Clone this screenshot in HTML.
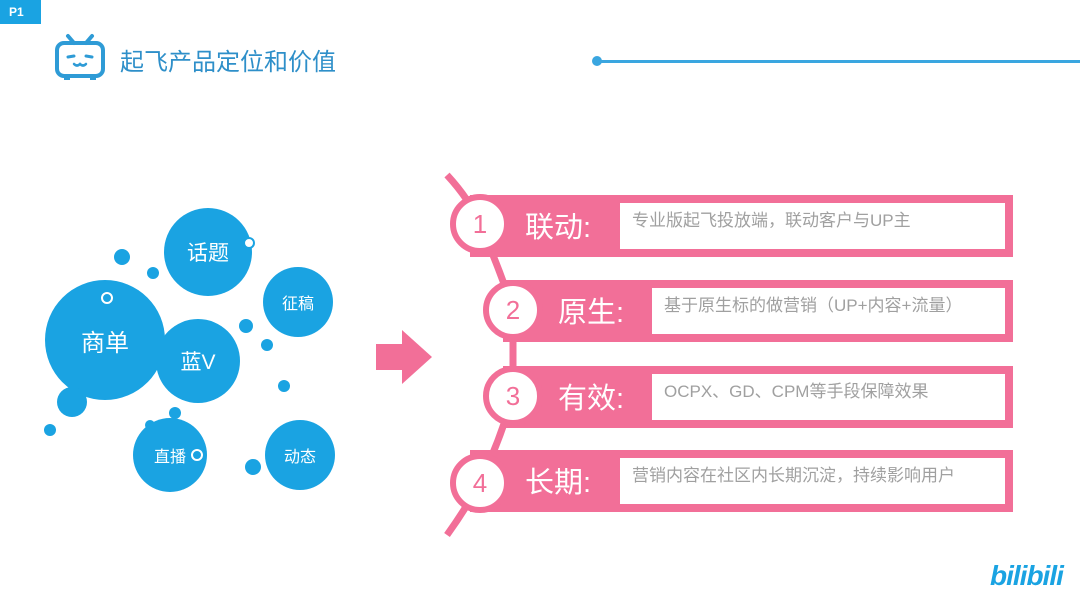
<!DOCTYPE html>
<html><head><meta charset="utf-8"><style>
body{margin:0;width:1080px;height:608px;background:#fff;position:relative;overflow:hidden;font-family:"Liberation Sans","Noto Sans CJK SC",sans-serif}
.a{position:absolute}
.b{position:absolute;border-radius:50%;background:#1aa3e2;color:#fff;display:flex;align-items:center;justify-content:center}
.band{position:absolute;background:#f26f98;height:62px;right:67px}
.wb{position:absolute;background:#fff;top:8px;bottom:8px;right:8px;color:#a0a0a0;font-size:17px;padding:6px 10px 0 12px;line-height:24px;overflow:hidden}
.lab{position:absolute;color:#fff;font-size:29px;top:9px}
.c{position:absolute;width:48px;height:48px;border-radius:50%;background:#fff;border:6px solid #f26f98;color:#f26f98;font-size:26px;display:flex;align-items:center;justify-content:center}
</style></head><body>
<div class="a" style="left:0;top:0;width:41px;height:24px;background:#1aa3e2;color:#fff;font-size:12px;font-weight:bold;line-height:24px;padding-left:9px;box-sizing:border-box">P1</div>
<svg class="a" style="left:52px;top:32px" width="56" height="50"><g stroke="#2e9bd6" fill="none" stroke-width="4" stroke-linecap="round"><line x1="16" y1="4" x2="22" y2="11"/><line x1="40" y1="4" x2="34" y2="11"/><rect x="5" y="11" width="46" height="33" rx="7"/><line x1="16" y1="25" x2="22" y2="24" stroke-width="3"/><line x1="34" y1="24" x2="40" y2="25" stroke-width="3"/><path d="M22 32 q3 3 6 0 q3 3 6 0" stroke-width="2.5"/></g><rect x="12" y="43" width="6" height="5" fill="#2e9bd6"/><rect x="38" y="43" width="6" height="5" fill="#2e9bd6"/></svg>
<div class="a" style="left:120px;top:42px;font-size:24px;color:#2e8fc9">起飞产品定位和价值</div>
<div class="a" style="left:597px;top:60px;width:483px;height:3px;background:#3aa6e0"></div>
<div class="a" style="left:592px;top:56px;width:10px;height:10px;border-radius:50%;background:#3aa6e0"></div>

<div class="b" style="left:45px;top:280px;width:120px;height:120px;font-size:24px">商单</div>
<div class="b" style="left:164px;top:208px;width:88px;height:88px;font-size:21px">话题</div>
<div class="b" style="left:156px;top:319px;width:84px;height:84px;font-size:21px">蓝V</div>
<div class="b" style="left:263px;top:267px;width:70px;height:70px;font-size:16px">征稿</div>
<div class="b" style="left:133px;top:418px;width:74px;height:74px;font-size:16px">直播</div>
<div class="b" style="left:265px;top:420px;width:70px;height:70px;font-size:16px">动态</div>
<div class="b" style="left:114px;top:249px;width:16px;height:16px"></div>
<div class="b" style="left:147px;top:267px;width:12px;height:12px"></div>
<div class="b" style="left:57px;top:387px;width:30px;height:30px"></div>
<div class="b" style="left:44px;top:424px;width:12px;height:12px"></div>
<div class="b" style="left:239px;top:319px;width:14px;height:14px"></div>
<div class="b" style="left:261px;top:339px;width:12px;height:12px"></div>
<div class="b" style="left:278px;top:380px;width:12px;height:12px"></div>
<div class="b" style="left:169px;top:407px;width:12px;height:12px"></div>
<div class="b" style="left:145px;top:420px;width:10px;height:10px"></div>
<div class="b" style="left:245px;top:459px;width:16px;height:16px"></div>
<div class="a" style="left:101px;top:292px;width:8px;height:8px;border:2px solid #fff;border-radius:50%;background:#1aa3e2"></div>
<div class="a" style="left:243px;top:237px;width:8px;height:8px;border:2px solid #1aa3e2;border-radius:50%;background:#fff"></div>
<div class="a" style="left:191px;top:449px;width:8px;height:8px;border:2px solid #fff;border-radius:50%;background:#1aa3e2"></div>

<svg class="a" style="left:374px;top:328px" width="60" height="58"><polygon points="2,16 28,16 28,2 58,29 28,56 28,42 2,42" fill="#f26f98"/></svg>

<svg class="a" style="left:0;top:0" width="1080" height="608"><path d="M447 175 Q470 200 480 224 Q500 270 513 310 L513 396 Q500 440 480 483 Q465 510 447 535" stroke="#f26f98" stroke-width="7" fill="none"/></svg>

<div class="band" style="left:470px;top:195px"><div class="lab" style="left:55px">联动:</div><div class="wb" style="left:150px">专业版起飞投放端，联动客户与UP主</div></div>
<div class="band" style="left:503px;top:280px"><div class="lab" style="left:55px">原生:</div><div class="wb" style="left:149px">基于原生标的做营销（UP+内容+流量）</div></div>
<div class="band" style="left:503px;top:366px"><div class="lab" style="left:55px">有效:</div><div class="wb" style="left:149px;padding-right:70px">OCPX、GD、CPM等手段保障效果</div></div>
<div class="band" style="left:470px;top:450px"><div class="lab" style="left:55px">长期:</div><div class="wb" style="left:150px">营销内容在社区内长期沉淀，持续影响用户</div></div>

<div class="c" style="left:450px;top:194px">1</div>
<div class="c" style="left:483px;top:280px">2</div>
<div class="c" style="left:483px;top:366px">3</div>
<div class="c" style="left:450px;top:453px">4</div>

<div class="a" style="left:990px;top:560px;font-size:28px;font-weight:bold;color:#1aa3e2;font-style:italic;letter-spacing:-1px">bilibili</div>
</body></html>
